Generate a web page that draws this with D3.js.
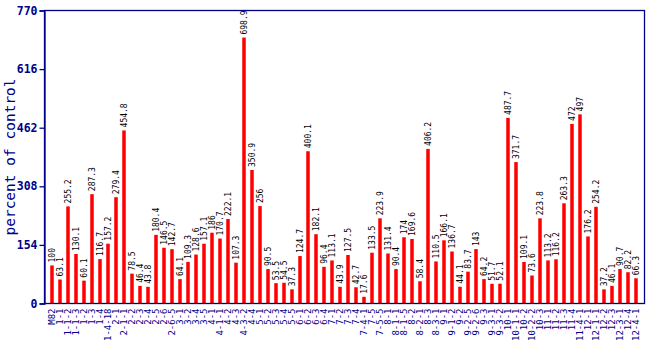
<!DOCTYPE html>
<html><head><meta charset="utf-8">
<script src="https://cdn.jsdelivr.net/npm/d3@7"></script>
<style>body{margin:0;background:#fff}</style>
</head><body>
<script>
const categories = ["M82","1-1","1-1-2","1-1-3","1-2","1-3","1-4","1-4-18",
"2-1","2-1-1","2-2","2-3","2-4","2-5","2-6","2-6-5",
"3-1","3-2","3-4","3-5",
"4-1","4-1-1","4-2","4-3","4-3-2","4-4",
"5-1","5-2","5-3","5-4","5-5",
"6-1","6-2","6-3","6-4",
"7-1","7-2","7-3","7-4","7-4-1","7-5","7-5-5",
"8-1","8-1-1","8-1-5","8-2","8-2-1","8-3","8-3-1",
"9-1","9-1-2","9-2","9-2-5","9-2-6","9-3","9-3-1","9-3-2",
"10-1","10-1-1","10-2","10-2-2","10-3",
"11-1","11-2","11-3","11-4","11-4-1",
"12-1","12-1-1","12-2","12-3","12-3-1","12-4","12-4-1"];
const values = [100,63.1,255.2,130.1,60.1,287.3,116.7,157.2,279.4,454.8,
78.5,46.4,43.8,180.4,146.5,142.7,64.1,109.3,128.6,157.1,
186,170.7,222.1,107.3,698.9,350.9,256,90.5,53.5,54.5,
37.3,124.7,400.1,182.1,96.4,113.1,43.9,127.5,42.7,17.6,
133.5,223.9,131.4,90.4,174,169.6,58.4,406.2,110.5,166.1,
136.7,44.1,83.7,143,64.2,51.7,52.1,487.7,371.7,109.1,
73.6,223.8,113.2,116.2,263.3,472,497,176.2,254.2,37.2,
46.1,90.7,82.2,66.3];
const yTicks = [0,154,308,462,616,770];
const yTitle = "percent of control";

const W=650,H=350, L=44.5, R=644.5, T=10.5, B=303.5;
const navy="#00008B";
const svg=d3.select("body").append("svg").attr("width",W).attr("height",H);

const x=d3.scaleBand().domain(categories).range([48,640]).paddingInner(0.56).paddingOuter(0.28);
const y=d3.scaleLinear().domain([0,770]).range([B,T]);

svg.append("g").selectAll("rect").data(values).join("rect")
  .attr("x",(d,i)=>x(categories[i])+x.bandwidth()/2-1.75)
  .attr("width",3.5)
  .attr("y",d=>y(d)).attr("height",d=>B-y(d)).attr("fill","#FF0000");

svg.append("g").selectAll("text").data(values).join("text")
  .attr("transform",(d,i)=>`translate(${x(categories[i])+x.bandwidth()/2},${y(d)-3}) rotate(-90)`)
  .attr("dy","0.35em")
  .attr("font-family","DejaVu Sans Mono").attr("font-size","8px").attr("fill","#000")
  .text(d=>d);

// frame
svg.append("rect").attr("x",L).attr("y",T).attr("width",R-L).attr("height",B-T)
  .attr("fill","none").attr("stroke",navy).attr("stroke-width",1.3);

// y axis
const yAxis=d3.axisLeft(y).tickValues(yTicks).tickSize(5).tickPadding(2).tickFormat(d3.format("d"));
const ga=svg.append("g").attr("transform",`translate(${L},0)`).call(yAxis);
ga.select(".domain").attr("stroke",navy).attr("stroke-width",1.3);
ga.selectAll(".tick line").attr("stroke",navy).attr("stroke-width",1.3);
ga.selectAll(".tick text").attr("fill",navy).attr("font-family","DejaVu Sans Mono")
  .attr("font-weight","bold").attr("font-size","11.5px");

// x axis labels
const xAxis=d3.axisBottom(x).tickSize(0).tickPadding(0);
const gx=svg.append("g").attr("transform",`translate(0,${B})`).call(xAxis);
gx.select(".domain").remove();
gx.selectAll(".tick text").attr("fill",navy).attr("font-family","DejaVu Sans Mono")
  .attr("font-size","9px").attr("text-anchor","end")
  .attr("transform","translate(0,5) rotate(-90)").attr("x",0).attr("y",0).attr("dy","0.35em");

svg.append("text").attr("transform",`translate(10,${(T+B)/2}) rotate(-90)`)
  .attr("text-anchor","middle").attr("dy","0.35em")
  .attr("font-family","DejaVu Sans Mono").attr("font-size","14.5px").attr("fill",navy)
  .text(yTitle);
</script>
</body></html>
